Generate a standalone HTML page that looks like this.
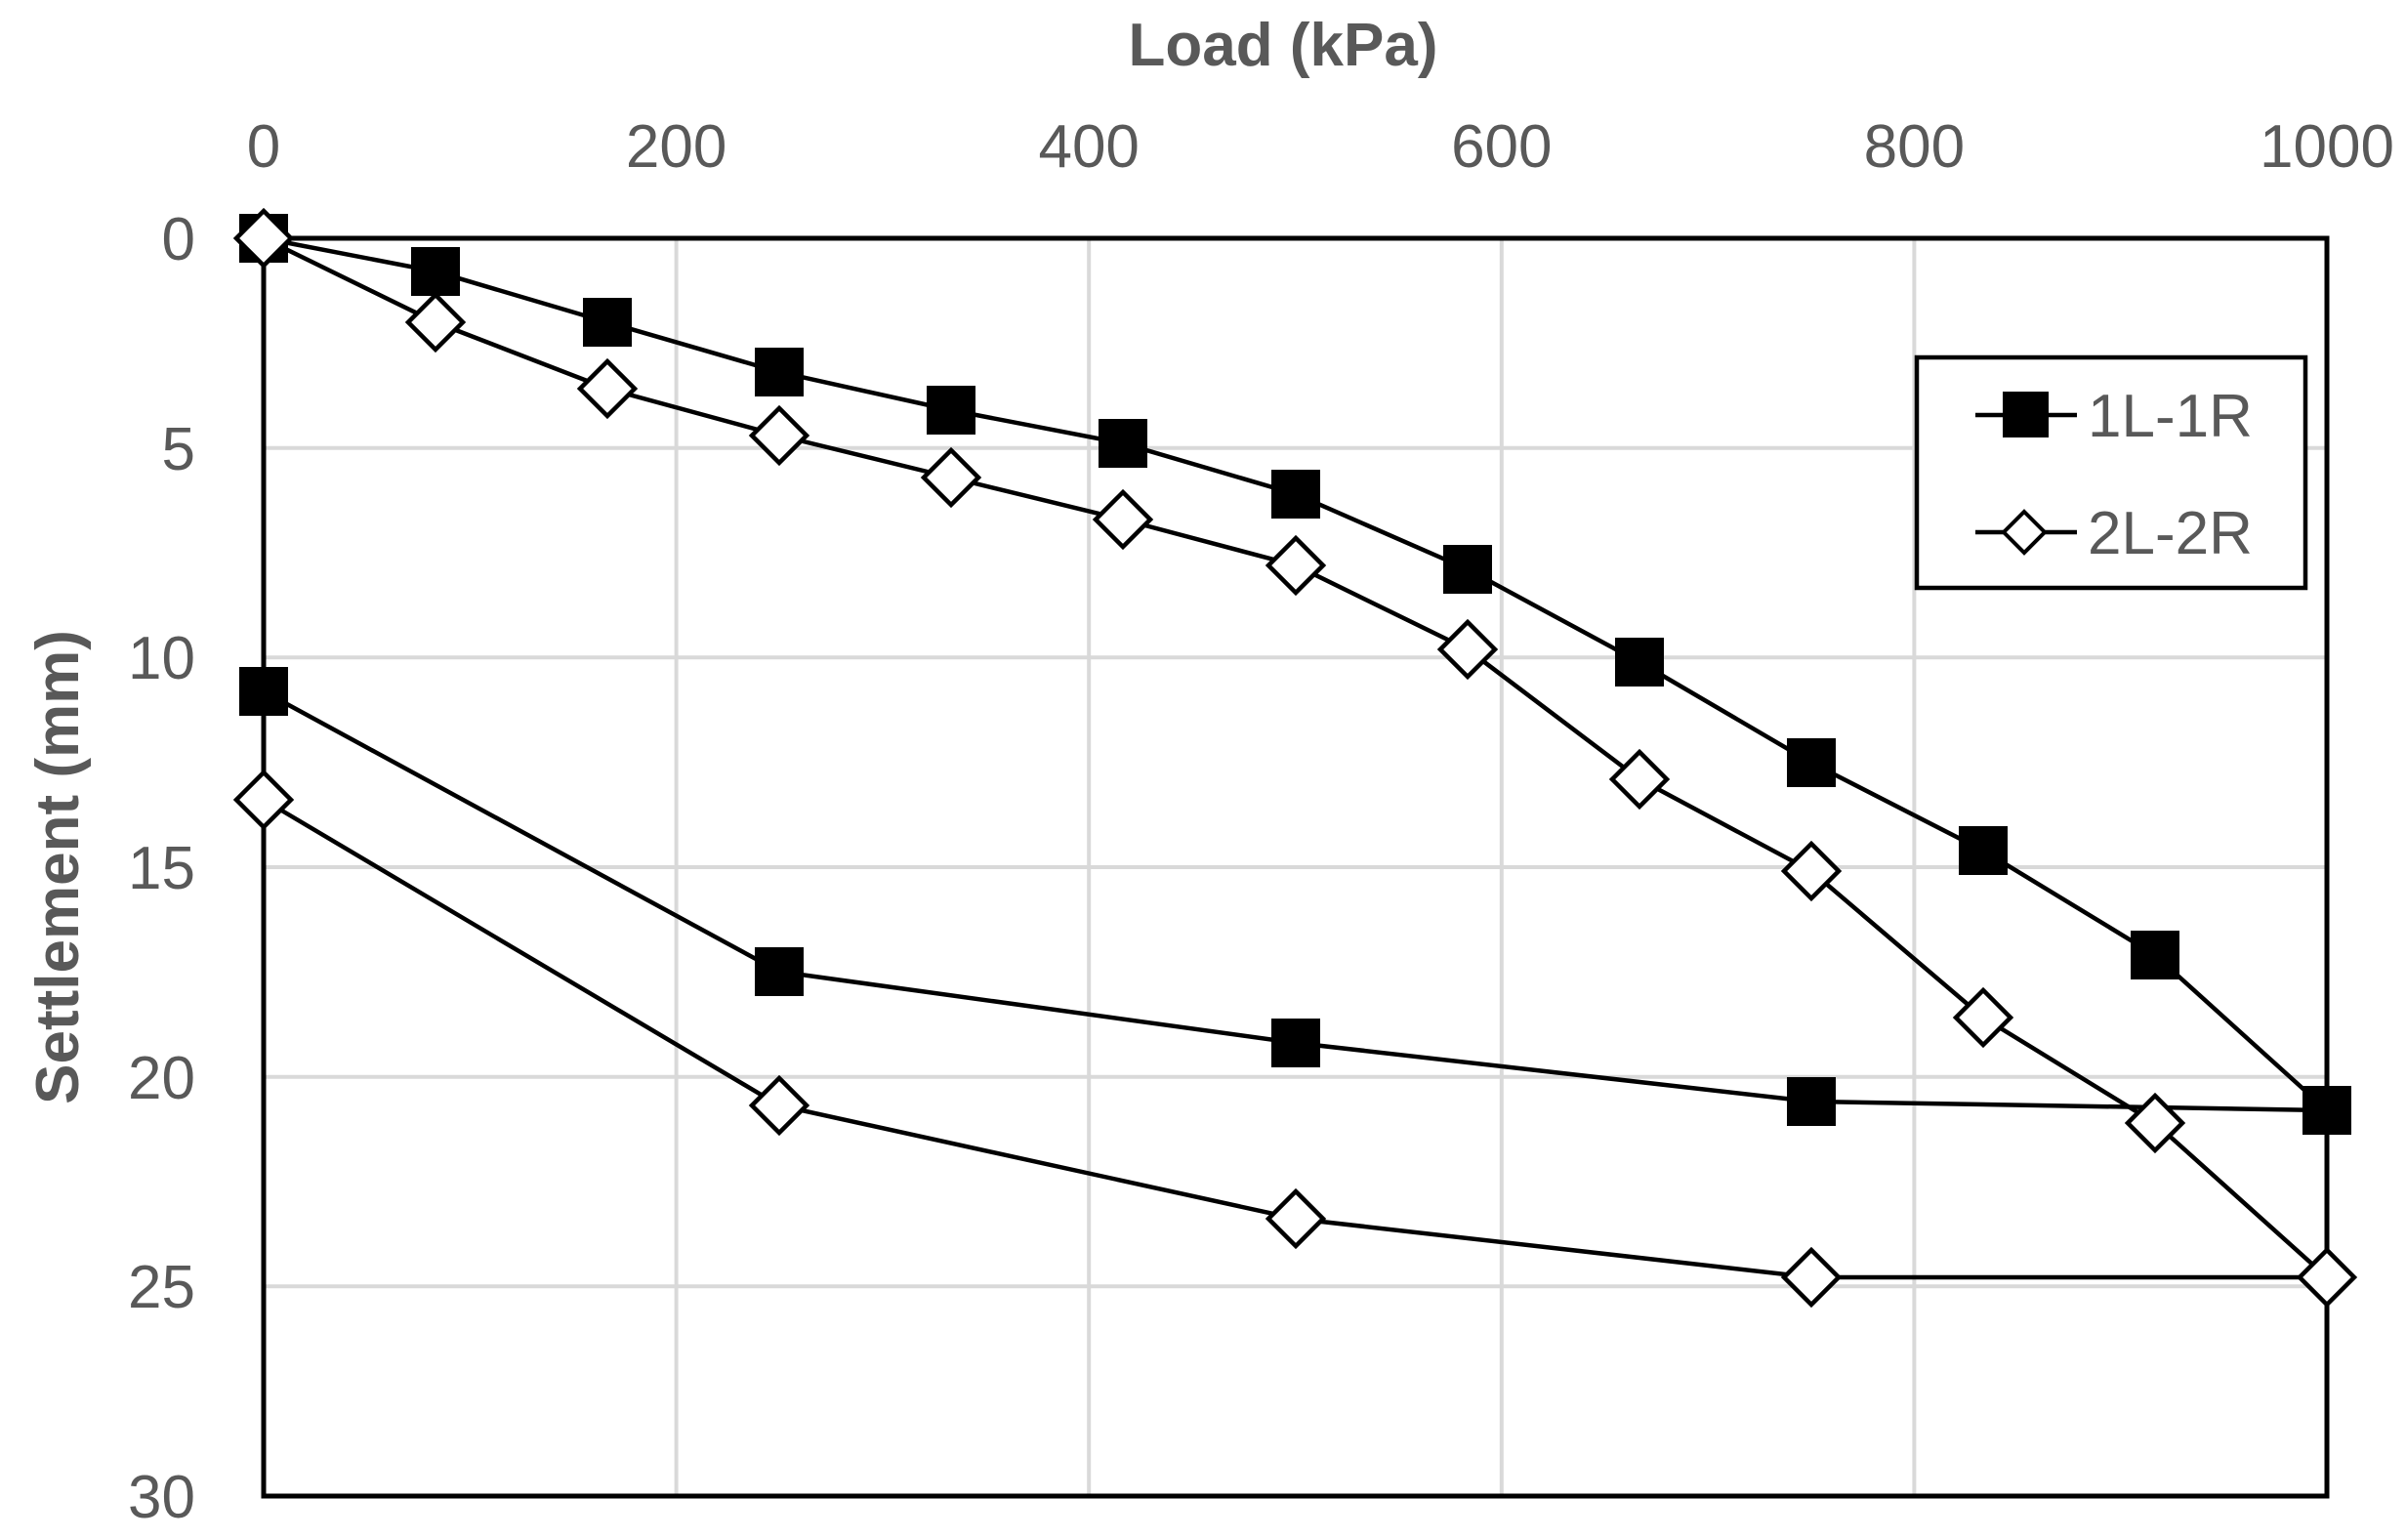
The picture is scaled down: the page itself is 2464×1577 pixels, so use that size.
<!DOCTYPE html>
<html><head><meta charset="utf-8"><style>
html,body{margin:0;padding:0;background:#fff;}
svg{display:block;}
text{font-family:"Liberation Sans",sans-serif;fill:#595959;}
</style></head><body>
<svg width="2464" height="1577" viewBox="0 0 2464 1577" xmlns="http://www.w3.org/2000/svg">
<defs>
<g id="sq"><rect x="-25" y="-25" width="50" height="50" fill="#000"/></g>
<g id="dm"><path d="M0,-28 L28,0 L0,28 L-28,0 Z" fill="#fff" stroke="#000" stroke-width="4.5" stroke-linejoin="miter"/></g>
</defs>
<g stroke="#d9d9d9" stroke-width="4">
<line x1="692.6" y1="244" x2="692.6" y2="1532"/>
<line x1="1115.2" y1="244" x2="1115.2" y2="1532"/>
<line x1="1537.8" y1="244" x2="1537.8" y2="1532"/>
<line x1="1960.4" y1="244" x2="1960.4" y2="1532"/>
<line x1="270" y1="458.7" x2="2383" y2="458.7"/>
<line x1="270" y1="673.3" x2="2383" y2="673.3"/>
<line x1="270" y1="888" x2="2383" y2="888"/>
<line x1="270" y1="1102.7" x2="2383" y2="1102.7"/>
<line x1="270" y1="1317.3" x2="2383" y2="1317.3"/>
</g>
<rect x="270" y="244" width="2113" height="1288" fill="none" stroke="#000" stroke-width="5"/>
<g font-size="62" text-anchor="middle">
<text x="270" y="171">0</text>
<text x="692.6" y="171">200</text>
<text x="1115.2" y="171">400</text>
<text x="1537.8" y="171">600</text>
<text x="1960.4" y="171">800</text>
<text x="2383" y="171">1000</text>
</g>
<g font-size="62" text-anchor="end">
<text x="200" y="266">0</text>
<text x="200" y="481">5</text>
<text x="200" y="695">10</text>
<text x="200" y="910">15</text>
<text x="200" y="1125">20</text>
<text x="200" y="1339">25</text>
<text x="200" y="1554">30</text>
</g>
<text x="1314" y="67" font-size="62" font-weight="bold" text-anchor="middle">Load (kPa)</text>
<text transform="translate(80,888) rotate(-90)" font-size="62" font-weight="bold" text-anchor="middle">Settlement (mm)</text>
<polyline fill="none" stroke="#000" stroke-width="4.5" points="270,244 446,278 622,330 798,381 974,420 1150,454 1327,506 1503,583 1679,678 1855,781 2031,871 2207,978 2383,1137 1855,1128 1327,1068 798,995 270,708"/>
<polyline fill="none" stroke="#000" stroke-width="4.5" points="270,244 446,330 622,398 798,446 974,489 1150,532 1327,579 1503,665 1679,798 1855,892 2031,1042 2207,1150 2383,1308 1855,1308 1327,1248 798,1132 270,819"/>
<g>
<use href="#sq" x="270" y="244"/><use href="#sq" x="446" y="278"/><use href="#sq" x="622" y="330"/><use href="#sq" x="798" y="381"/><use href="#sq" x="974" y="420"/><use href="#sq" x="1150" y="454"/><use href="#sq" x="1327" y="506"/><use href="#sq" x="1503" y="583"/><use href="#sq" x="1679" y="678"/><use href="#sq" x="1855" y="781"/><use href="#sq" x="2031" y="871"/><use href="#sq" x="2207" y="978"/><use href="#sq" x="2383" y="1137"/><use href="#sq" x="1855" y="1128"/><use href="#sq" x="1327" y="1068"/><use href="#sq" x="798" y="995"/><use href="#sq" x="270" y="708"/>
</g>
<g>
<use href="#dm" x="270" y="244"/><use href="#dm" x="446" y="330"/><use href="#dm" x="622" y="398"/><use href="#dm" x="798" y="446"/><use href="#dm" x="974" y="489"/><use href="#dm" x="1150" y="532"/><use href="#dm" x="1327" y="579"/><use href="#dm" x="1503" y="665"/><use href="#dm" x="1679" y="798"/><use href="#dm" x="1855" y="892"/><use href="#dm" x="2031" y="1042"/><use href="#dm" x="2207" y="1150"/><use href="#dm" x="2383" y="1308"/><use href="#dm" x="1855" y="1308"/><use href="#dm" x="1327" y="1248"/><use href="#dm" x="798" y="1132"/><use href="#dm" x="270" y="819"/>
</g>
<rect x="1963" y="366" width="398" height="236" fill="#fff" stroke="#000" stroke-width="4.5"/>
<line x1="2023" y1="425" x2="2127" y2="425" stroke="#000" stroke-width="4.5"/>
<rect x="2051" y="401" width="47" height="47" fill="#000"/>
<line x1="2023" y1="545" x2="2127" y2="545" stroke="#000" stroke-width="4.5"/>
<path d="M2073,524 L2094,545 L2073,566 L2052,545 Z" fill="#fff" stroke="#000" stroke-width="4"/>
<text x="2138" y="447" font-size="62">1L-1R</text>
<text x="2138" y="567" font-size="62">2L-2R</text>
</svg>
</body></html>
